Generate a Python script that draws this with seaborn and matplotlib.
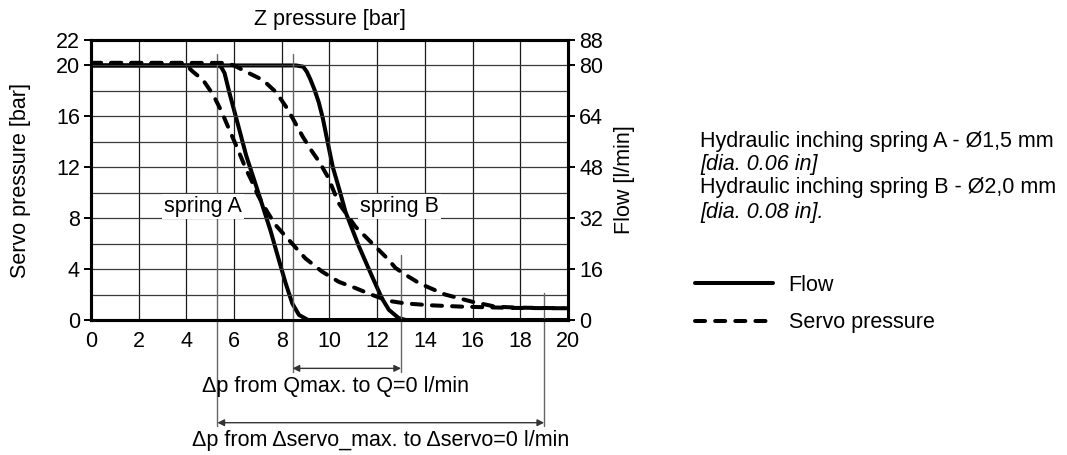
import matplotlib
matplotlib.use("Agg")
import matplotlib.pyplot as plt
import seaborn as sns

# Z pressure [bar] sample points and the measured curves
flow_a_x = [0, 5.3, 5.45, 5.6, 5.81, 6.17, 6.51, 6.93, 7.53, 7.88, 8.16, 8.44, 8.72, 9.1, 20]
flow_a = [80, 80, 79.6, 77.6, 71.2, 61.2, 51.6, 42, 28, 18.8, 11.6, 5.2, 1.6, 0, 0]  # l/min

flow_b_x = [0, 8.6, 8.9, 9.05, 9.2, 9.37, 9.55, 9.72, 9.93, 10.14, 10.42, 10.67,
            11.23, 11.79, 12.2, 12.49, 12.9, 13.2, 20]
flow_b = [80, 80, 79.6, 78, 75.6, 72.4, 68.4, 63.4, 55.6, 48, 40.8, 34,
          23.2, 13.6, 6.8, 3.2, 0.6, 0, 0]  # l/min

servo_a_x = [0, 3.8, 4.05, 4.28, 4.70, 5.12, 5.47, 5.81, 6.17, 6.51, 6.72, 7.0, 7.39,
             7.74, 8.30, 8.99, 9.69, 10.39, 11.1, 11.8, 12.49, 13.19, 14.3, 15.56, 17.65, 20]
servo_a = [20.2, 20.2, 19.9, 19.5, 18.85, 17.7, 16.4, 14.9, 13.35, 11.8, 11.0, 9.8, 8.5,
           7.46, 6.28, 4.84, 3.8, 3.0, 2.5, 1.96, 1.5, 1.3, 1.15, 1.05, 0.95, 0.92]  # bar

servo_b_x = [0, 5.6, 6.0, 6.51, 7.21, 7.76, 8.18, 8.53, 8.88, 9.23, 9.58, 9.93, 10.39,
             11.09, 11.79, 12.49, 12.76, 13.19, 13.8, 14.85, 15.97, 16.95, 17.9, 20]
servo_b = [20.2, 20.2, 20.0, 19.5, 18.85, 17.9, 16.75, 15.6, 14.4, 13.35, 12.4, 11.25, 9.17,
           7.33, 6.02, 4.71, 4.1, 3.55, 2.85, 2.0, 1.44, 1.05, 0.97, 0.92]  # bar

# Pressure points bounding the two delta-p ranges
dp_flow = (8.45, 13.0)
dp_servo = (5.3, 19.0)

servo_ticks = [0, 4, 8, 12, 16, 20, 22]
flow_ticks = [0, 16, 32, 48, 64, 80, 88]
z_ticks = list(range(0, 21, 2))

FS = 15.5

sns.set_theme(style="white")
plt.rcParams["font.family"] = ["Liberation Sans", "DejaVu Sans"]
plt.rcParams.update({
    "font.size": FS,
    "text.color": "black",
    "axes.labelcolor": "black",
    "xtick.color": "black",
    "ytick.color": "black",
})

W, H = 1067, 455
fig = plt.figure(figsize=(W / 100, H / 100), dpi=100)
ax = fig.add_axes([91 / W, 1 - 320 / H, (568 - 91) / W, 280 / H])
ax2 = ax.twinx()

# grid: every 2 bar in both directions
for v in range(0, 21, 2):
    ax.axvline(v, color="#1a1a1a", lw=0.9, zorder=0)
for h in range(0, 23, 2):
    ax.axhline(h, color="#3a3a3a", lw=0.9, zorder=0)

dash = (0, (2.5, 2.5))
sns.lineplot(x=servo_a_x, y=servo_a, ax=ax, color="black", lw=2.9, linestyle=dash,
             dash_capstyle="round", label="Servo pressure", zorder=3)
sns.lineplot(x=servo_b_x, y=servo_b, ax=ax, color="black", lw=2.9, linestyle=dash,
             dash_capstyle="round", zorder=3)
sns.lineplot(x=flow_a_x, y=flow_a, ax=ax2, color="black", lw=2.9,
             solid_capstyle="round", label="Flow", zorder=3)
sns.lineplot(x=flow_b_x, y=flow_b, ax=ax2, color="black", lw=2.9,
             solid_capstyle="round", zorder=3)

ax.set_xlim(0, 20)
ax.set_ylim(0, 22)
ax2.set_ylim(0, 88)
ax.set_xticks(z_ticks)
ax.set_yticks(servo_ticks)
ax2.set_yticks(flow_ticks)

for a in (ax, ax2):
    for s in a.spines.values():
        s.set_linewidth(2.2)
        s.set_color("black")
    a.tick_params(direction="out", length=5, width=1.4, colors="black",
                  labelsize=FS, pad=3)
    if a.get_legend() is not None:
        a.get_legend().remove()

ax.set_xlabel("Z pressure [bar]", fontsize=FS, labelpad=11)
ax.xaxis.set_label_position("top")
ax.set_ylabel("Servo pressure [bar]", fontsize=FS, labelpad=18)
ax2.set_ylabel("Flow [l/min]", fontsize=FS, labelpad=8)

ax.set_zorder(2)
ax.patch.set_visible(False)
ax2.set_zorder(1)

# spring labels with white background
box = dict(facecolor="white", edgecolor="none", pad=1.5)
ax.text(4.69, 8.9, "spring A", ha="center", va="center", fontsize=FS, bbox=box, zorder=2)
ax.text(12.95, 8.9, "spring B", ha="center", va="center", fontsize=FS, bbox=box, zorder=2)

# delta-p reference lines and dimension arrows
ref = dict(color="#666666", lw=1.0, clip_on=False, zorder=1)
ax.plot([dp_servo[0]] * 2, [20.9, -8.3], **ref)
ax.plot([dp_flow[0]] * 2, [20.9, -4.1], **ref)
ax.plot([dp_flow[1]] * 2, [5.1, -4.1], **ref)
ax.plot([dp_servo[1]] * 2, [2.1, -8.3], **ref)

arrow = dict(arrowstyle="<|-|>", color="#333333", lw=1.0, mutation_scale=10,
             shrinkA=0, shrinkB=0)
ax.annotate("", xy=(dp_flow[1], -3.8), xytext=(dp_flow[0], -3.8),
            arrowprops=arrow, annotation_clip=False)
ax.annotate("", xy=(dp_servo[1], -8.07), xytext=(dp_servo[0], -8.07),
            arrowprops=arrow, annotation_clip=False)
ax.text(10.27, -5.2, "Δp from Qmax. to Q=0 l/min", ha="center", va="center",
        fontsize=FS, clip_on=False)
ax.text(12.13, -9.45, "Δp from Δservo_max. to Δservo=0 l/min", ha="center",
        va="center", fontsize=FS, clip_on=False)

# orifice notes
notes = [("Hydraulic inching spring A - Ø1,5 mm", "normal", 146.7),
         ("[dia. 0.06 in]", "italic", 170.0),
         ("Hydraulic inching spring B - Ø2,0 mm", "normal", 193.3),
         ("[dia. 0.08 in].", "italic", 217.7)]
for txt, style, yb in notes:
    fig.text(700 / W, 1 - yb / H, txt, fontsize=FS, style=style, ha="left", va="baseline")

handles = [None, None]
for ln in ax.get_lines():
    if ln.get_label() == "Servo pressure":
        handles[1] = ln
for ln in ax2.get_lines():
    if ln.get_label() == "Flow":
        handles[0] = ln
fig.legend(handles, ["Flow", "Servo pressure"], loc="upper left",
           bbox_to_anchor=(695 / W, 1 - 275 / H), frameon=False, fontsize=FS,
           handlelength=3.6, handletextpad=0.75, labelspacing=0.75,
           borderpad=0, borderaxespad=0)

fig.savefig("out.png", dpi=100)
